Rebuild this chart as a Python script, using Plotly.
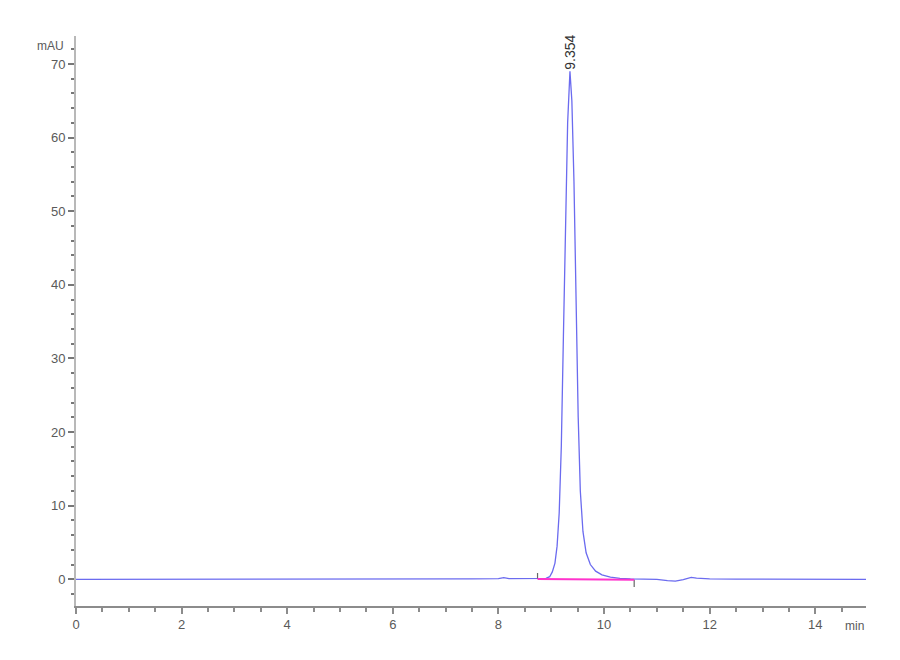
import plotly.graph_objects as go

# --- Chromatogram data ---
# retention time (min) and absorbance (mAU)
time_min = [0.0, 0.5, 1.0, 1.5, 2.0, 2.3, 2.6, 2.9, 3.2, 3.5, 3.8, 4.1, 4.4, 4.7, 5.0,
            5.5, 6.0, 6.5, 7.0, 7.5, 8.0, 8.1, 8.2, 8.5, 8.74,
            8.90, 8.97, 9.02, 9.07, 9.11, 9.15, 9.19, 9.23, 9.27, 9.31, 9.354,
            9.39, 9.43, 9.47, 9.51, 9.55, 9.60, 9.66, 9.74, 9.84, 9.96, 10.12,
            10.30, 10.50, 10.80, 11.0, 11.2, 11.35, 11.5, 11.65, 11.75, 12.0,
            12.5, 13.0, 13.5, 14.0, 14.5, 15.0]
signal_mau = [0.0, 0.0, -0.02, 0.0, -0.03, 0.02, -0.05, 0.02, -0.04, 0.02, -0.05, 0.02, -0.04, 0.02, 0.0,
              0.0, 0.02, 0.03, 0.05, 0.05, 0.08, 0.22, 0.08, 0.06, 0.08,
              0.12, 0.35, 1.0, 2.2, 4.5, 9.0, 18.0, 33.0, 50.0, 62.0, 69.0,
              65.0, 54.0, 38.0, 22.0, 12.0, 6.5, 3.6, 2.0, 1.1, 0.6, 0.3,
              0.12, 0.05, 0.0, 0.0, -0.18, -0.25, -0.05, 0.25, 0.15, 0.05,
              0.02, 0.0, 0.02, 0.0, 0.02, 0.0]

# integration baseline of the peak (start / end)
baseline_time = [8.74, 10.57]
baseline_mau = [0.05, -0.05]

peak_rt = 9.354
peak_height = 69.0

BLUE = "#6b6bef"
AXIS_GREY = "#8c8c8c"
TEXT_GREY = "#5a5a5a"
FONT = "Liberation Sans Narrow, Liberation Sans, Arial"

fig = go.Figure()

fig.add_trace(go.Scatter(
    x=time_min, y=signal_mau, mode="lines",
    line=dict(color=BLUE, width=1.3),
    hoverinfo="x+y", showlegend=False,
))

# baseline with the start (up) and end (down) markers
fig.add_trace(go.Scatter(
    x=baseline_time, y=baseline_mau, mode="lines",
    line=dict(color="#ff33cc", width=2),
    error_y=dict(type="data", symmetric=False, array=[0.8, 0.0], arrayminus=[0.0, 1.0],
                 color="#666666", thickness=1.2, width=0),
    hoverinfo="skip", showlegend=False,
))

fig.add_annotation(
    x=peak_rt, y=peak_height, text=f"{peak_rt:.3f}", textangle=-90,
    showarrow=False, xanchor="center", yanchor="bottom", yshift=0,
    font=dict(family=FONT, size=14, color="#333333"),
)

fig.add_annotation(x=0, y=1, xref="paper", yref="paper", text="mAU", showarrow=False,
                   xanchor="right", yanchor="middle", xshift=-10, yshift=-10,
                   font=dict(family=FONT, size=12, color=TEXT_GREY))
fig.add_annotation(x=1, y=0, xref="paper", yref="paper", text="min", showarrow=False,
                   xanchor="right", yanchor="top", yshift=-11,
                   font=dict(family=FONT, size=12, color=TEXT_GREY))

fig.update_xaxes(
    range=[0, 14.96], showgrid=False, zeroline=False,
    showline=True, linecolor=AXIS_GREY, linewidth=1.5,
    ticks="outside", ticklen=6, tickwidth=1.5, tickcolor=AXIS_GREY,
    minor=dict(dtick=0.5, ticks="outside", ticklen=4, tickcolor=AXIS_GREY, showgrid=False),
    tickfont=dict(family=FONT, size=13, color=TEXT_GREY),
    tickvals=[0, 2, 4, 6, 8, 10, 12, 14],
)
fig.update_yaxes(
    range=[-3.63, 73.8], showgrid=False, zeroline=False,
    showline=True, linecolor="#b8b8b8", linewidth=2,
    ticks="outside", ticklen=6, tickwidth=1.5, tickcolor="#777777",
    tickvals=[0, 10, 20, 30, 40, 50, 60, 70],
    minor=dict(dtick=2, tick0=0, ticks="outside", ticklen=3, tickcolor="#777777", showgrid=False),
    tickfont=dict(family=FONT, size=13, color=TEXT_GREY),
)

fig.update_layout(
    width=900, height=660,
    margin=dict(l=68, r=42, t=28, b=62),
    plot_bgcolor="white", paper_bgcolor="white",
)

fig.write_html("out.html")
